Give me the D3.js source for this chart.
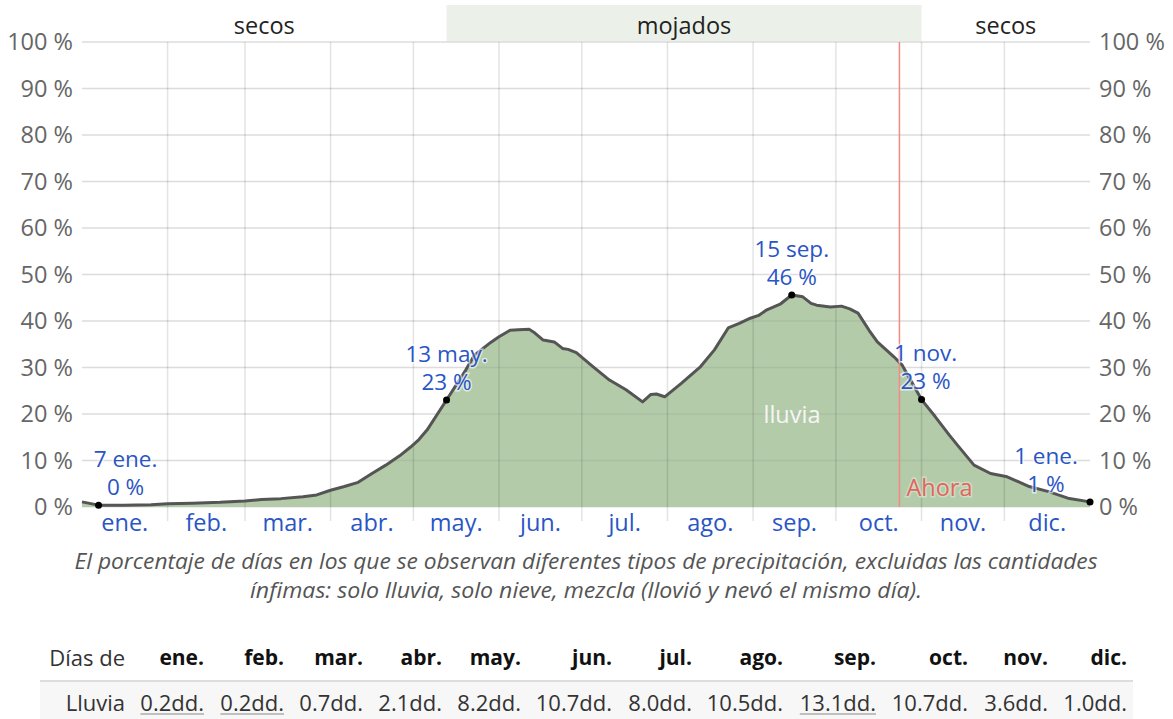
<!DOCTYPE html>
<html>
<head>
<meta charset="utf-8">
<script src="https://cdn.jsdelivr.net/npm/d3@7"></script>
<style>
  body { margin: 0; background: #fff; }
  svg { font-family: "Open Sans", "Noto Sans", sans-serif; }
</style>
</head>
<body>
<svg id="chart" width="1173" height="719"></svg>
<script>
// month axis
const MONTHS = ['ene.', 'feb.', 'mar.', 'abr.', 'may.', 'jun.', 'jul.', 'ago.', 'sep.', 'oct.', 'nov.', 'dic.'];
const MONTH_START = [0, 31, 59, 90, 120, 151, 181, 212, 243, 273, 304, 334, 365];

// percentage of days with rain, day 0 = 1 ene.
const DAYS = [0, 6, 15, 25, 31, 40, 50, 59, 65, 72, 80, 85, 90, 95, 100, 105, 110, 115, 119, 122, 125,
  132, 139, 142, 145, 148, 151, 155, 158, 162, 164, 167, 171, 174, 176, 179, 185, 191, 197, 203, 206, 208, 211, 217, 224, 229,
  234, 238, 242, 245, 248, 253, 257, 261, 264, 266, 271, 275, 278, 281, 285, 288, 294, 297, 304, 309, 314, 317,
  323, 329, 335, 343, 350, 357, 365];
const LLUVIA = [1.1, 0.4, 0.4, 0.5, 0.7, 0.8, 1.0, 1.3, 1.6, 1.8, 2.2, 2.6, 3.6, 4.4, 5.3, 7.2, 9.0, 11.0, 12.9, 14.5, 16.6,
  23.0, 29.5, 32.6, 34.0, 35.4, 36.6, 38.0, 38.1, 38.2, 37.4, 35.9, 35.5, 34.1, 33.9, 33.2, 30.2, 27.3, 25.2, 22.6, 24.2, 24.3, 23.7, 26.6, 30.2, 33.8,
  38.5, 39.5, 40.6, 41.2, 42.4, 43.7, 45.6, 45.2, 43.8, 43.4, 43.0, 43.2, 42.6, 41.7, 38.0, 35.5, 32.3, 30.5, 23.1, 19.4, 15.5, 13.3,
  9.0, 7.2, 6.5, 4.4, 3.3, 1.9, 1.1];

const Y_TICKS = [0, 10, 20, 30, 40, 50, 60, 70, 80, 90, 100];

// seasons band
const SEASON_LABELS = ['secos', 'mojados', 'secos'];
const SEASON_BOUNDS = [0, 132, 304, 365];
const SEASON_WET = [false, true, false];

// annotations
const NOTE_DAYS = [6, 132, 257, 304, 365];
const NOTE_VALUES = [0.4, 23.0, 45.6, 23.1, 1.1];
const NOTE_DATES = ['7 ene.', '13 may.', '15 sep.', '1 nov.', '1 ene.'];
const NOTE_PCTS = ['0 %', '23 %', '46 %', '23 %', '1 %'];
const NOW_DAY = 296;

// table
const TABLE_ROW = 'Lluvia';
const TABLE_VALUES = ['0.2dd.', '0.2dd.', '0.7dd.', '2.1dd.', '8.2dd.', '10.7dd.', '8.0dd.', '10.5dd.', '13.1dd.', '10.7dd.', '3.6dd.', '1.0dd.'];
const TABLE_MARKED = [0, 1, 8];

const CAPTION = [
  'El porcentaje de días en los que se observan diferentes tipos de precipitación, excluidas las cantidades',
  'ínfimas: solo lluvia, solo nieve, mezcla (llovió y nevó el mismo día).'
];

const svg = d3.select('#chart');

const x = d3.scaleLinear().domain([0, 365]).range([82, 1090]);
const y = d3.scaleLinear().domain([0, 100]).range([507, 42]);

const BLUE = '#2a55c5';
const GREY = '#666';
const FS = '23.5px';

// season band
const band = svg.append('g');
band.selectAll('rect')
  .data(SEASON_LABELS)
  .join('rect')
  .attr('x', (d, i) => x(SEASON_BOUNDS[i]))
  .attr('y', 5)
  .attr('width', (d, i) => x(SEASON_BOUNDS[i + 1]) - x(SEASON_BOUNDS[i]))
  .attr('height', 37)
  .attr('fill', (d, i) => SEASON_WET[i] ? '#ebf0e9' : 'none');
band.selectAll('text')
  .data(SEASON_LABELS)
  .join('text')
  .attr('x', (d, i) => (x(SEASON_BOUNDS[i]) + x(SEASON_BOUNDS[i + 1])) / 2)
  .attr('y', 26)
  .attr('dy', '0.35em')
  .attr('text-anchor', 'middle')
  .style('font-size', FS)
  .attr('fill', '#222')
  .text(d => d);

// horizontal grid
svg.append('g')
  .selectAll('line')
  .data(Y_TICKS)
  .join('line')
  .attr('x1', x(0)).attr('x2', x(365))
  .attr('y1', d => y(d)).attr('y2', d => y(d))
  .attr('stroke', '#e8e8e8')
  .attr('stroke-width', 1.5);

// area + line
const area = d3.area()
  .x((d, i) => x(DAYS[i]))
  .y0(y(0))
  .y1(d => y(d));
const line = d3.line()
  .x((d, i) => x(DAYS[i]))
  .y(d => y(d));

svg.append('path')
  .attr('d', area(LLUVIA))
  .attr('fill', '#b3cba9');

// vertical month grid (over the fill)
svg.append('g')
  .selectAll('line')
  .data(MONTH_START.slice(1, 12))
  .join('line')
  .attr('x1', d => x(d)).attr('x2', d => x(d))
  .attr('y1', y(100)).attr('y2', y(0) + 14)
  .attr('stroke', 'rgba(0,0,0,0.11)')
  .attr('stroke-width', 1.5);

// horizontal grid faint over fill
svg.append('g')
  .selectAll('line')
  .data(Y_TICKS.slice(1))
  .join('line')
  .attr('x1', x(0)).attr('x2', x(365))
  .attr('y1', d => y(d)).attr('y2', d => y(d))
  .attr('stroke', 'rgba(0,0,0,0.05)')
  .attr('stroke-width', 1.5);

svg.append('path')
  .attr('d', line(LLUVIA))
  .attr('fill', 'none')
  .attr('stroke', '#555')
  .attr('stroke-width', 3)
  .attr('stroke-linejoin', 'round');

// now line
svg.append('line')
  .attr('x1', x(NOW_DAY)).attr('x2', x(NOW_DAY))
  .attr('y1', y(100)).attr('y2', y(0))
  .attr('stroke', '#f08a84')
  .attr('stroke-width', 1.5);
svg.append('text')
  .attr('x', x(NOW_DAY) + 7)
  .attr('y', 488)
  .attr('dy', '0.35em')
  .style('font-size', FS)
  .attr('fill', '#e0675c')
  .attr('stroke', 'rgba(255,255,255,0.35)')
  .attr('stroke-width', 3)
  .attr('paint-order', 'stroke')
  .text('Ahora');

// series label
svg.append('text')
  .attr('x', 792).attr('y', 415)
  .attr('dy', '0.35em')
  .attr('text-anchor', 'middle')
  .style('font-size', FS)
  .attr('fill', '#f6f6f6')
  .text('lluvia');

// y axes
const axisLeft = d3.axisLeft(y).tickValues(Y_TICKS).tickFormat(d => d + ' %').tickSize(0).tickPadding(9);
const axisRight = d3.axisRight(y).tickValues(Y_TICKS).tickFormat(d => d + ' %').tickSize(0).tickPadding(9);
[[axisLeft, x(0)], [axisRight, x(365)]].forEach(([ax, pos]) => {
  const g = svg.append('g').attr('transform', `translate(${pos},0)`).call(ax);
  g.select('.domain').remove();
  g.selectAll('text').style('font-size', FS).style('font-family', '"Open Sans", sans-serif').attr('fill', GREY);
});

// month labels
svg.append('g')
  .selectAll('text')
  .data(MONTHS)
  .join('text')
  .attr('x', (d, i) => x((MONTH_START[i] + MONTH_START[i + 1]) / 2))
  .attr('y', 523)
  .attr('dy', '0.35em')
  .attr('text-anchor', 'middle')
  .style('font-size', FS)
  .attr('fill', BLUE)
  .text(d => d);

// annotations
const NOTE_SHIFT = [27, 0, 0, 4, -44];
const notes = svg.append('g');
notes.selectAll('circle')
  .data(NOTE_DAYS)
  .join('circle')
  .attr('cx', d => x(d))
  .attr('cy', (d, i) => y(NOTE_VALUES[i]))
  .attr('r', 3.5)
  .attr('fill', '#000');
NOTE_DAYS.forEach((d, i) => {
  const cx = x(d) + NOTE_SHIFT[i];
  const cy = y(NOTE_VALUES[i]);
  [[NOTE_DATES[i], cy - 46], [NOTE_PCTS[i], cy - 18]].forEach(([t, ty]) => {
    notes.append('text')
      .attr('x', cx).attr('y', ty)
      .attr('dy', '0.35em')
      .attr('text-anchor', 'middle')
      .style('font-size', '22.5px')
      .attr('fill', BLUE)
      .attr('stroke', 'rgba(255,255,255,0.6)')
      .attr('stroke-width', 3)
      .attr('paint-order', 'stroke')
      .text(t);
  });
});

// caption
const CAPTION_W = [1023, 672];
svg.append('g')
  .selectAll('text')
  .data(CAPTION)
  .join('text')
  .attr('x', (d, i) => 586 - CAPTION_W[i] / 2)
  .attr('y', (d, i) => 562 + i * 29)
  .attr('dy', '0.35em')
  .attr('textLength', (d, i) => CAPTION_W[i])
  .attr('lengthAdjust', 'spacingAndGlyphs')
  .style('font-size', '21px')
  .style('font-style', 'italic')
  .attr('fill', '#555')
  .text(d => d);

// table
const COL_RIGHT = [125, 204, 284, 363, 442, 521, 612, 692, 783, 876, 968, 1048, 1127];
const table = svg.append('g').style('font-size', '22px');
table.append('rect')
  .attr('x', 40).attr('y', 681).attr('width', 1093).attr('height', 38)
  .attr('fill', '#f7f7f7');
table.append('line')
  .attr('x1', 40).attr('x2', 1133).attr('y1', 681).attr('y2', 681)
  .attr('stroke', '#ddd').attr('stroke-width', 2);
table.append('text')
  .attr('x', COL_RIGHT[0]).attr('y', 658).attr('dy', '0.35em')
  .attr('text-anchor', 'end').attr('fill', '#333')
  .text('Días de');
table.selectAll('.head')
  .data(MONTHS)
  .join('text')
  .attr('class', 'head')
  .attr('x', (d, i) => COL_RIGHT[i + 1]).attr('y', 658).attr('dy', '0.35em')
  .attr('text-anchor', 'end')
  .style('font-weight', 'bold')
  .style('font-size', '21px')
  .attr('fill', '#111')
  .text(d => d);
table.append('text')
  .attr('x', COL_RIGHT[0]).attr('y', 703).attr('dy', '0.35em')
  .attr('text-anchor', 'end').attr('fill', '#333')
  .text(TABLE_ROW);
table.selectAll('.val')
  .data(TABLE_VALUES)
  .join('text')
  .attr('class', 'val')
  .attr('x', (d, i) => COL_RIGHT[i + 1]).attr('y', 703).attr('dy', '0.35em')
  .attr('text-anchor', 'end')
  .attr('fill', '#333')
  .text(d => d)
  .each(function (d, i) {
    if (!TABLE_MARKED.includes(i)) return;
    const b = this.getBBox();
    table.append('line')
      .attr('x1', b.x).attr('x2', b.x + b.width)
      .attr('y1', 714).attr('y2', 714)
      .attr('stroke', '#888').attr('stroke-width', 1);
  });
</script>
</body>
</html>
